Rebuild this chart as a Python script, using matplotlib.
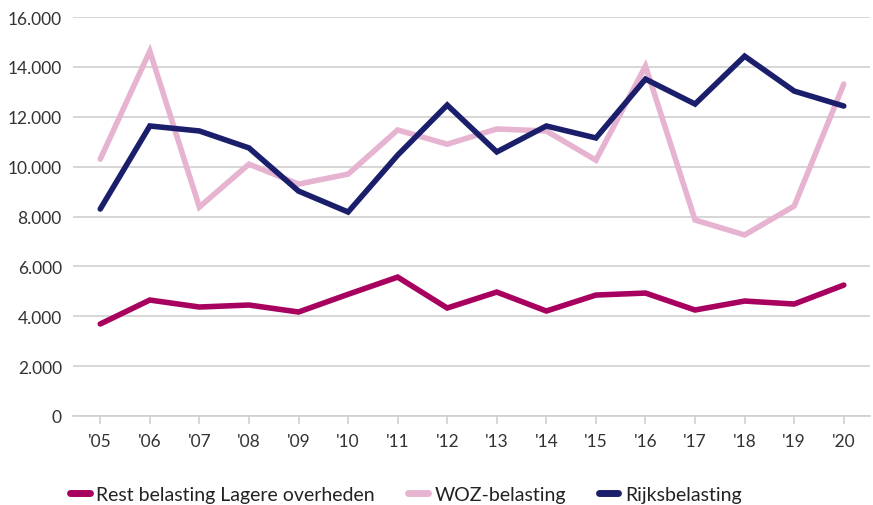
import matplotlib
matplotlib.use("Agg")
import matplotlib.pyplot as plt
from matplotlib.ticker import FuncFormatter

plt.rcParams['font.family'] = ['Lato', 'DejaVu Sans']

years = ["'05", "'06", "'07", "'08", "'09", "'10", "'11", "'12", "'13", "'14",
         "'15", "'16", "'17", "'18", "'19", "'20"]
rest = [3690, 4650, 4370, 4450, 4170, 4880, 5570, 4330, 4970, 4210,
        4850, 4930, 4250, 4610, 4490, 5250]
woz = [10300, 14630, 8380, 10100, 9300, 9700, 11470, 10900, 11510, 11430,
       10260, 14030, 7860, 7260, 8420, 13310]
rijks = [8300, 11630, 11430, 10750, 9020, 8180, 10460, 12470, 10590, 11630,
         11150, 13510, 12510, 14430, 13030, 12430]

series_names = ["Rest belasting Lagere overheden", "WOZ-belasting", "Rijksbelasting"]
colors = ["#A8005E", "#E6B3D0", "#1B1F6B"]

fig = plt.figure(figsize=(8.73, 5.06), dpi=100)
ax = fig.add_axes([0.0836, 0.1759, 0.913, 0.7885])

x = list(range(len(years)))
for vals, name, c in zip([rest, woz, rijks], series_names, colors):
    ax.plot(x, vals, color=c, lw=4, label=name, solid_capstyle='round', solid_joinstyle='miter')

ax.set_ylim(0, 16000)
ax.set_xlim(-0.55, 15.53)
ax.set_yticks(range(0, 16001, 2000))
ax.yaxis.set_major_formatter(FuncFormatter(lambda v, p: f"{int(v):,}".replace(",", ".")))
ax.set_xticks(x)
ax.set_xticklabels(years)
ax.grid(axis='y', color='#D0D0D0', lw=1.2)
ax.set_axisbelow(True)
for s in ['top', 'right', 'left']:
    ax.spines[s].set_visible(False)
ax.spines['bottom'].set_color('#D0D0D0')
ax.spines['bottom'].set_linewidth(1.2)
ax.tick_params(axis='y', length=0, labelsize=12.5, labelcolor='#333333', pad=8)
ax.tick_params(axis='x', length=6, color='#D0D0D0', width=1.2, labelsize=12.5, labelcolor='#333333', pad=6)

leg = fig.legend(loc='center', bbox_to_anchor=(0.465, 0.021), ncol=3, frameon=False,
                 fontsize=14, handlelength=1.0, handletextpad=0.35, columnspacing=1.7)
for h in leg.get_lines():
    h.set_linewidth(5)
for t in leg.get_texts():
    t.set_color('#222222')

fig.savefig("out.png", dpi=100)
